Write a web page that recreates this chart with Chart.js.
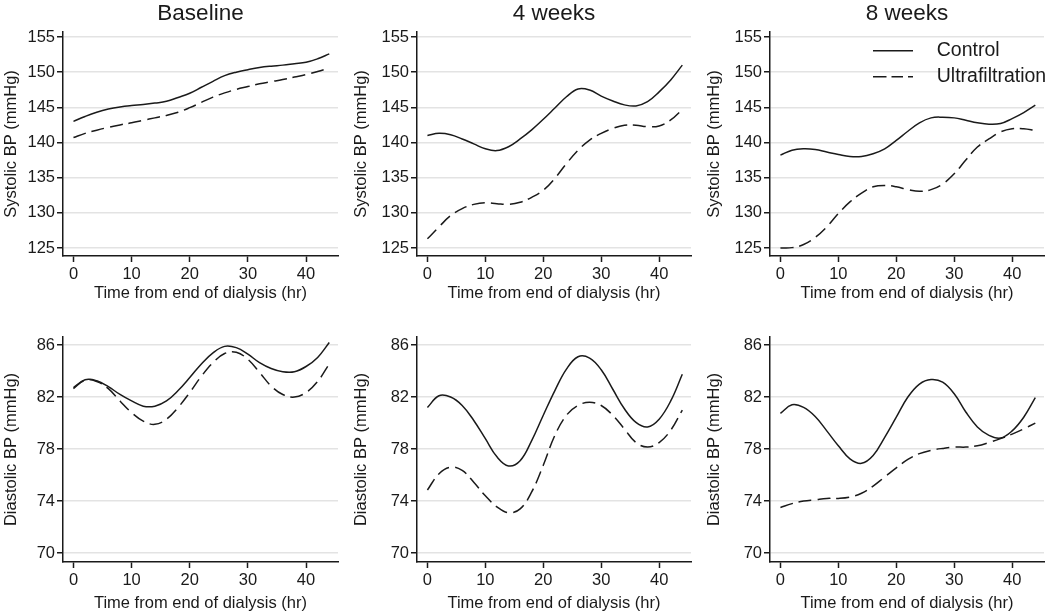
<!DOCTYPE html>
<html>
<head>
<meta charset="utf-8">
<script src="https://cdn.jsdelivr.net/npm/chart.js@4.4.0/dist/chart.umd.min.js"></script>
<style>
  body { margin: 0; background: #fff; width: 1050px; height: 615px; position: relative; overflow: hidden; }
  canvas { position: absolute; }
</style>
</head>
<body>
<canvas id="c1" width="342" height="305" style="left:0;top:0"></canvas>
<canvas id="c2" width="345" height="305" style="left:350px;top:0"></canvas>
<canvas id="c3" width="345" height="305" style="left:703px;top:0"></canvas>
<canvas id="c4" width="342" height="305" style="left:0;top:310px"></canvas>
<canvas id="c5" width="345" height="305" style="left:350px;top:310px"></canvas>
<canvas id="c6" width="345" height="305" style="left:703px;top:310px"></canvas>
<script>
// hours after end of dialysis
var hours = [0, 2, 4, 6, 8, 10, 12, 14, 16, 18, 20, 22, 24, 26, 28, 30, 32, 34, 36, 38, 40, 42, 44];
var xTicks = [0, 10, 20, 30, 40];
var sysTicks = [125, 130, 135, 140, 145, 150, 155];
var diaTicks = [70, 74, 78, 82, 86];
var titles = ['Baseline', '4 weeks', '8 weeks'];
var seriesNames = ['Control', 'Ultrafiltration'];

// systolic
var sysBaseCtrl = [143.0, 143.7, 144.3, 144.75, 145.05, 145.25, 145.4, 145.6, 145.85, 146.4, 147.0, 147.85, 148.7, 149.5, 150.0, 150.35, 150.65, 150.85, 151.0, 151.2, 151.4, 151.9, 152.6];
var sysBaseUf   = [140.7, 141.3, 141.75, 142.15, 142.5, 142.8, 143.15, 143.5, 143.85, 144.3, 144.95, 145.7, 146.45, 147.05, 147.55, 147.95, 148.35, 148.65, 148.95, 149.3, 149.65, 150.1, 150.6];
var sys4wCtrl   = [141.0, 141.3, 141.1, 140.5, 139.8, 139.1, 138.85, 139.4, 140.5, 141.8, 143.3, 144.9, 146.5, 147.6, 147.45, 146.6, 145.9, 145.35, 145.2, 145.8, 147.2, 148.9, 151.0];
var sys4wUf     = [126.3, 128.0, 129.6, 130.6, 131.2, 131.45, 131.3, 131.2, 131.5, 132.2, 133.2, 134.9, 137.0, 138.9, 140.35, 141.3, 142.0, 142.45, 142.45, 142.25, 142.35, 143.2, 144.7];
var sys8wCtrl   = [138.2, 138.9, 139.1, 139.0, 138.65, 138.3, 138.0, 138.0, 138.4, 139.1, 140.3, 141.6, 142.8, 143.5, 143.6, 143.5, 143.15, 142.8, 142.6, 142.7, 143.4, 144.25, 145.3];
var sys8wUf     = [125.0, 125.05, 125.5, 126.5, 128.0, 129.9, 131.55, 132.8, 133.7, 133.9, 133.7, 133.3, 133.05, 133.3, 134.1, 135.55, 137.5, 139.35, 140.5, 141.5, 141.95, 141.95, 141.7];

// diastolic
var diaBaseCtrl = [82.73, 83.33, 83.25, 82.8, 82.2, 81.7, 81.3, 81.3, 81.7, 82.5, 83.5, 84.55, 85.4, 85.9, 85.8, 85.3, 84.65, 84.2, 83.95, 83.95, 84.35, 85.05, 86.2];
var diaBaseUf   = [82.65, 83.3, 83.2, 82.65, 81.7, 80.8, 80.15, 79.9, 80.3, 81.2, 82.35, 83.6, 84.65, 85.35, 85.45, 84.9, 83.9, 82.85, 82.2, 82.0, 82.35, 83.2, 84.55];
var dia4wCtrl   = [81.2, 82.1, 82.0, 81.35, 80.2, 78.8, 77.4, 76.7, 77.1, 78.65, 80.6, 82.5, 84.15, 85.1, 85.0, 84.1, 82.6, 81.1, 80.05, 79.7, 80.3, 81.7, 83.75];
var dia4wUf     = [74.85, 76.1, 76.6, 76.35, 75.45, 74.4, 73.55, 73.1, 73.4, 74.7, 76.75, 79.05, 80.6, 81.35, 81.6, 81.35, 80.6, 79.55, 78.5, 78.15, 78.5, 79.45, 81.0];
var dia8wCtrl   = [80.75, 81.4, 81.2, 80.5, 79.4, 78.25, 77.25, 76.9, 77.5, 78.9, 80.45, 82.0, 83.0, 83.35, 83.15, 82.25, 80.85, 79.7, 79.05, 78.85, 79.4, 80.45, 81.95];
var dia8wUf     = [73.5, 73.8, 74.0, 74.1, 74.2, 74.2, 74.3, 74.6, 75.15, 75.85, 76.55, 77.2, 77.65, 77.9, 78.05, 78.15, 78.15, 78.25, 78.5, 78.8, 79.15, 79.55, 80.0];

var FONT = '"Liberation Sans", Arial, sans-serif';
var INK = '#1a1a1a';
var legendDash = [[40, 20], [13.5, 5, 11.5, 5, 5, 20]];

// put the legend at the top right inside the plot
var moveLegend = {
	id: 'moveLegend',
	afterLayout: function(chart) {
		var lg = chart.legend;
		lg.left = 163.5;
		lg.top = 34.5;
		lg.right = lg.left + lg.width;
		lg.bottom = chart.chartArea.bottom;
	}
};

function pts(vals) {
	return hours.map(function(h, i) { return {x: h, y: vals[i]}; });
}

function panel(id, o) {
	var tickFont = {family: FONT, size: 16.5};
	new Chart(document.getElementById(id), {
		type: 'line',
		data: {
			datasets: [
				{label: seriesNames[0], data: pts(o.ctrl), borderColor: INK, borderWidth: 1.5, pointRadius: 0, tension: 0.4, fill: false},
				{label: seriesNames[1], data: pts(o.uf), borderColor: INK, borderWidth: 1.5, borderDash: [13, 6], pointRadius: 0, tension: 0.4, fill: false}
			]
		},
		options: {
			responsive: false,
			animation: false,
			events: [],
			layout: {padding: {top: o.padTop, right: 4, left: 0, bottom: 0}},
			plugins: {
				title: {
					display: !!o.title, text: o.title || '', fullSize: false, color: INK,
					font: {family: FONT, size: 22.5, weight: 'normal'}, padding: {top: 0, bottom: 5}
				},
				legend: o.legend ? {
					display: true, position: 'chartArea', align: 'start',
					labels: {
						usePointStyle: true, pointStyle: 'line', pointStyleWidth: 54, padding: 6.5,
						color: INK, font: {family: FONT, size: 19.5},
						generateLabels: function(chart) {
							var items = Chart.defaults.plugins.legend.labels.generateLabels(chart);
							items.forEach(function(it, i) {
								it.lineDash = legendDash[i];
								it.pointStyle = 'line';
								it.rotation = 180;
								it.lineWidth = 1.5;
								it.strokeStyle = INK;
							});
							return items;
						}
					}
				} : {display: false},
				tooltip: {enabled: false}
			},
			scales: {
				x: {
					type: 'linear', min: -1.8, max: 45.5,
					afterFit: function(s) { s.height = o.xh; },
					afterBuildTicks: function(s) { s.ticks = xTicks.map(function(v) { return {value: v}; }); },
					ticks: {color: INK, font: tickFont, padding: 3, maxRotation: 0, autoSkip: false},
					grid: {drawOnChartArea: false, drawTicks: true, tickLength: 6, tickColor: INK, tickWidth: 1.5},
					border: {display: true, color: INK, width: 1.5},
					title: {display: true, text: 'Time from end of dialysis (hr)', color: INK, font: tickFont, padding: {top: 2, bottom: 2}}
				},
				y: {
					min: o.yMin, max: o.yMax,
					afterFit: function(s) { s.width = o.yw; },
					afterBuildTicks: function(s) { s.ticks = o.yTicks.map(function(v) { return {value: v}; }); },
					ticks: {color: INK, font: tickFont, padding: 2},
					grid: {color: '#e3e3e3', lineWidth: 1.5, drawTicks: true, tickLength: 6, tickColor: INK, tickWidth: 1.5},
					border: {display: true, color: INK, width: 1.5},
					title: {display: true, text: o.yLabel, color: INK, font: tickFont, padding: {top: 2, bottom: 2}}
				}
			}
		},
		plugins: o.legend ? [moveLegend] : []
	});
}

var sysLabel = 'Systolic BP (mmHg)';
var diaLabel = 'Diastolic BP (mmHg)';
var sysRange = [123.86, 155.71];
var diaRange = [69.31, 86.62];

panel('c1', {title: titles[0], yLabel: sysLabel, yMin: sysRange[0], yMax: sysRange[1], yTicks: sysTicks, ctrl: sysBaseCtrl, uf: sysBaseUf, yw: 63, padTop: 0, xh: 49});
panel('c2', {title: titles[1], yLabel: sysLabel, yMin: sysRange[0], yMax: sysRange[1], yTicks: sysTicks, ctrl: sys4wCtrl, uf: sys4wUf, yw: 67, padTop: 0, xh: 49});
panel('c3', {title: titles[2], yLabel: sysLabel, yMin: sysRange[0], yMax: sysRange[1], yTicks: sysTicks, ctrl: sys8wCtrl, uf: sys8wUf, yw: 67, padTop: 0, xh: 49, legend: true});
panel('c4', {yLabel: diaLabel, yMin: diaRange[0], yMax: diaRange[1], yTicks: diaTicks, ctrl: diaBaseCtrl, uf: diaBaseUf, yw: 63, padTop: 27, xh: 53});
panel('c5', {yLabel: diaLabel, yMin: diaRange[0], yMax: diaRange[1], yTicks: diaTicks, ctrl: dia4wCtrl, uf: dia4wUf, yw: 67, padTop: 27, xh: 53});
panel('c6', {yLabel: diaLabel, yMin: diaRange[0], yMax: diaRange[1], yTicks: diaTicks, ctrl: dia8wCtrl, uf: dia8wUf, yw: 67, padTop: 27, xh: 53});
</script>
</body>
</html>
